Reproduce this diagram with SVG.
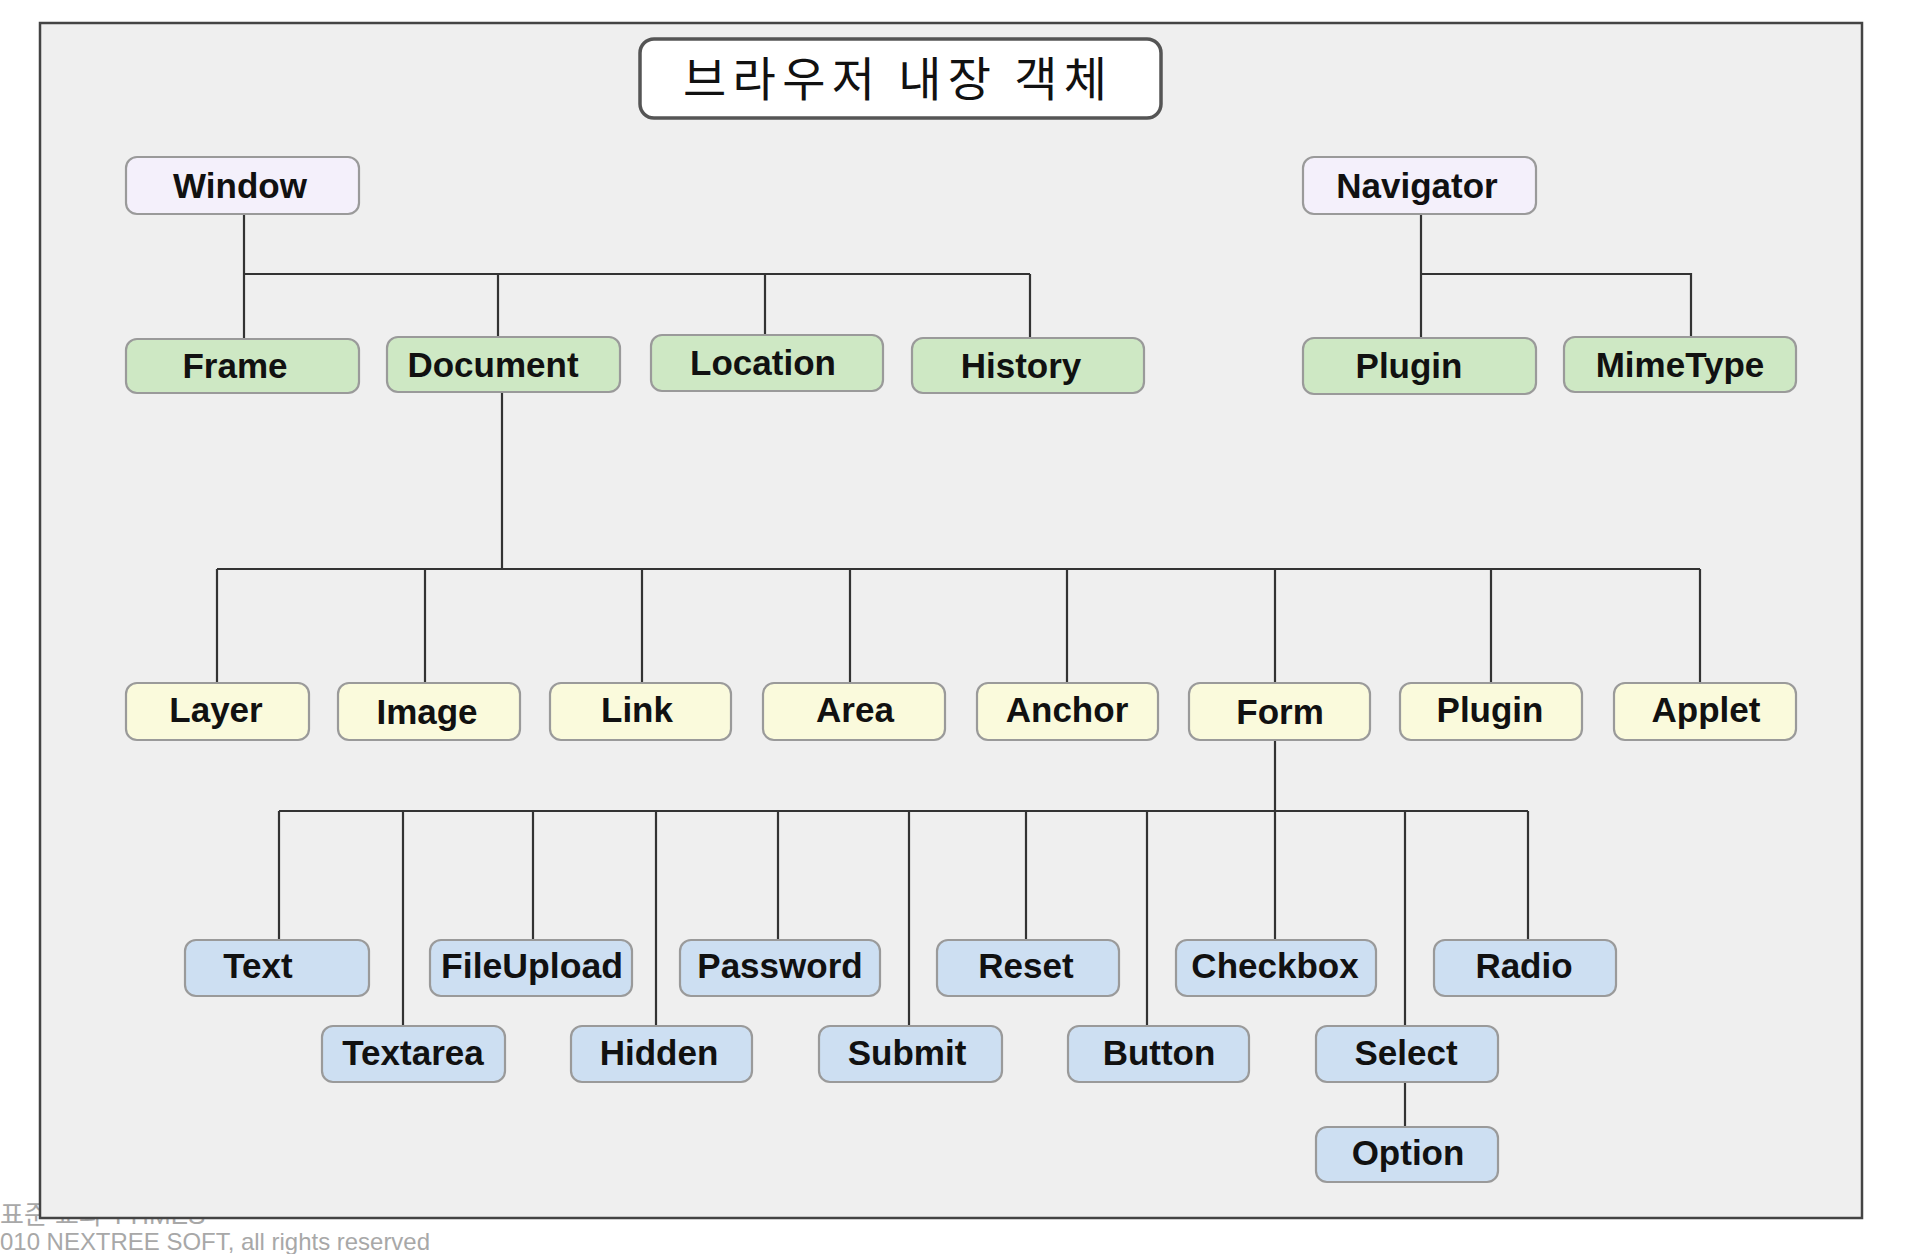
<svg xmlns="http://www.w3.org/2000/svg" width="1920" height="1254" viewBox="0 0 1920 1254">
<style>
.n rect{stroke:#9a9a9a;stroke-width:2.2}
.n text{font-family:"Liberation Sans",Arial,sans-serif;font-weight:bold;font-size:35px;fill:#111;text-anchor:middle}
.root rect{fill:#f4f0fb}
.l2 rect{fill:#cee8c4}
.l3 rect{fill:#fafadc}
.l4 rect{fill:#cddff2}
#connectors path{fill:none;stroke:#333;stroke-width:2.2}
.foot{font-family:"Liberation Sans","Noto Sans CJK KR",sans-serif;fill:#a8a8a8}
</style>
<rect width="1920" height="1254" fill="#ffffff"/>
<text class="foot" x="0" y="1224" font-size="26">표준 교과 TTIMES</text>
<rect id="frame" x="40" y="23" width="1822" height="1195" fill="#efefef" stroke="#444" stroke-width="2.5"/>
<text class="foot" x="0" y="1250" font-size="24" textLength="430" lengthAdjust="spacingAndGlyphs">010 NEXTREE SOFT, all rights reserved</text>

<g id="title">
<rect x="640" y="39" width="521" height="79" rx="14" fill="#fff" stroke="#555" stroke-width="3.5"/>
<text x="683" y="96" font-family="'Noto Sans CJK KR',sans-serif" font-size="47" textLength="424" lengthAdjust="spacing" fill="#111">브라우저 내장 객체</text>
</g>

<g id="connectors">
<path d="M244 214V339M244 274H1030M498 274V337M765 274V335M1030 274V338"/>
<path d="M1421 214V338M1421 274H1691V337"/>
<path d="M502 392V569M217 569H1700M217 569V683M425 569V683M642 569V683M850 569V683M1067 569V683M1275 569V683M1491 569V683M1700 569V683"/>
<path d="M1275 740V811M279 811H1528M279 811V940M533 811V940M778 811V940M1026 811V940M1275 811V940M1528 811V940M403 811V1026M656 811V1026M909 811V1026M1147 811V1026M1405 811V1026"/>
<path d="M1405 1081V1127"/>
</g>

<g id="window" class="n root"><rect x="126" y="157" width="233" height="57" rx="11"/><text x="240" y="198">Window</text></g>
<g id="navigator" class="n root"><rect x="1303" y="157" width="233" height="57" rx="11"/><text x="1417" y="198">Navigator</text></g>

<g id="frame-node" class="n l2"><rect x="126" y="339" width="233" height="54" rx="11"/><text x="235" y="378">Frame</text></g>
<g id="document" class="n l2"><rect x="387" y="337" width="233" height="55" rx="11"/><text x="493" y="377">Document</text></g>
<g id="location" class="n l2"><rect x="651" y="335" width="232" height="56" rx="11"/><text x="763" y="375">Location</text></g>
<g id="history" class="n l2"><rect x="912" y="338" width="232" height="55" rx="11"/><text x="1021" y="378">History</text></g>
<g id="plugin-nav" class="n l2"><rect x="1303" y="338" width="233" height="56" rx="11"/><text x="1409" y="378">Plugin</text></g>
<g id="mimetype" class="n l2"><rect x="1564" y="337" width="232" height="55" rx="11"/><text x="1680" y="377">MimeType</text></g>

<g id="layer" class="n l3"><rect x="126" y="683" width="183" height="57" rx="11"/><text x="216" y="722">Layer</text></g>
<g id="image" class="n l3"><rect x="338" y="683" width="182" height="57" rx="11"/><text x="427" y="724">Image</text></g>
<g id="link" class="n l3"><rect x="550" y="683" width="181" height="57" rx="11"/><text x="637" y="722">Link</text></g>
<g id="area" class="n l3"><rect x="763" y="683" width="182" height="57" rx="11"/><text x="855" y="722">Area</text></g>
<g id="anchor" class="n l3"><rect x="977" y="683" width="181" height="57" rx="11"/><text x="1067" y="722">Anchor</text></g>
<g id="form" class="n l3"><rect x="1189" y="683" width="181" height="57" rx="11"/><text x="1280" y="724">Form</text></g>
<g id="plugin" class="n l3"><rect x="1400" y="683" width="182" height="57" rx="11"/><text x="1490" y="722">Plugin</text></g>
<g id="applet" class="n l3"><rect x="1614" y="683" width="182" height="57" rx="11"/><text x="1706" y="722">Applet</text></g>

<g id="text" class="n l4"><rect x="185" y="940" width="184" height="56" rx="11"/><text x="258" y="978">Text</text></g>
<g id="fileupload" class="n l4"><rect x="430" y="940" width="202" height="56" rx="11"/><text x="532" y="978" textLength="182" lengthAdjust="spacingAndGlyphs">FileUpload</text></g>
<g id="password" class="n l4"><rect x="680" y="940" width="200" height="56" rx="11"/><text x="780" y="978">Password</text></g>
<g id="reset" class="n l4"><rect x="937" y="940" width="182" height="56" rx="11"/><text x="1026" y="978">Reset</text></g>
<g id="checkbox" class="n l4"><rect x="1176" y="940" width="200" height="56" rx="11"/><text x="1275" y="978">Checkbox</text></g>
<g id="radio" class="n l4"><rect x="1434" y="940" width="182" height="56" rx="11"/><text x="1524" y="978">Radio</text></g>

<g id="textarea" class="n l4"><rect x="322" y="1026" width="183" height="56" rx="11"/><text x="413" y="1065">Textarea</text></g>
<g id="hidden" class="n l4"><rect x="571" y="1026" width="181" height="56" rx="11"/><text x="659" y="1065">Hidden</text></g>
<g id="submit" class="n l4"><rect x="819" y="1026" width="183" height="56" rx="11"/><text x="907" y="1065">Submit</text></g>
<g id="button" class="n l4"><rect x="1068" y="1026" width="181" height="56" rx="11"/><text x="1159" y="1065">Button</text></g>
<g id="select" class="n l4"><rect x="1316" y="1026" width="182" height="56" rx="11"/><text x="1406" y="1065">Select</text></g>
<g id="option" class="n l4"><rect x="1316" y="1127" width="182" height="55" rx="11"/><text x="1408" y="1165">Option</text></g>
</svg>
